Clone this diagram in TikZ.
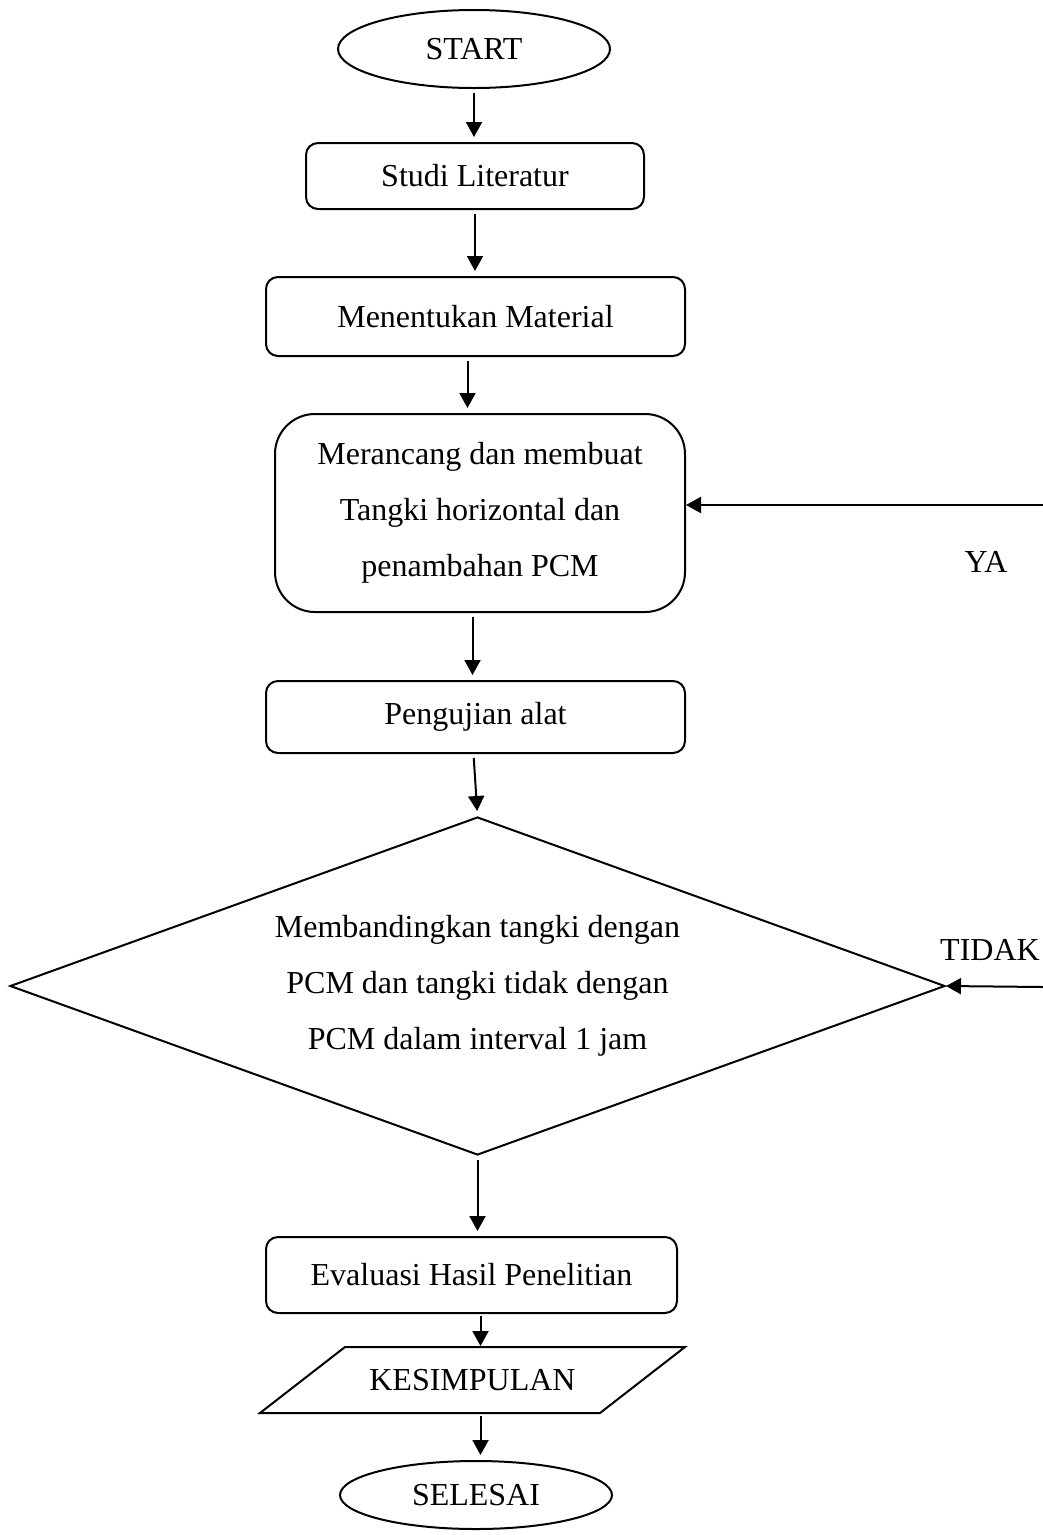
\documentclass[tikz,border=0pt]{standalone}
\usepackage{fontspec}
\setmainfont{Liberation Serif}
\usetikzlibrary{shapes.geometric, arrows.meta}

\begin{document}
\begin{tikzpicture}[x=1pt, y=-1pt,
    line width=2pt,
    every node/.style={font=\fontsize{32}{56}\selectfont, inner sep=0pt},
    terminal/.style={draw, ellipse, minimum width=272pt},
    process/.style={draw, rectangle, rounded corners=12pt, align=center},
    decision/.style={draw, diamond, aspect=2.77, align=center,
                     minimum width=935pt, minimum height=338pt},
    arr/.style={-{Triangle[length=15pt, width=16pt]}, shorten <=4pt, shorten >=5pt}]
      \useasboundingbox (0, 0) rectangle (1043, 1535);

      % Start
      \node[terminal, minimum height=78pt] (start) at (474, 49) {START};

      % Process boxes
      \node[process, minimum width=338pt, minimum height=66pt] (studi) at (475, 176)
        {Studi Literatur};
      \node[process, minimum width=419pt, minimum height=79pt] (material) at (475.5, 316.5)
        {Menentukan Material};
      \node[process, rounded corners=40pt, minimum width=410pt, minimum height=198pt]
        (rancang) at (480, 513)
        {Merancang dan membuat\\Tangki horizontal dan\\penambahan PCM};
      \node[process, minimum width=419pt, minimum height=72pt] (uji) at (475.5, 717)
        {Pengujian alat};

      % Decision
      \node[decision] (banding) at (477.5, 986)
        {Membandingkan tangki dengan\\PCM dan tangki tidak dengan\\PCM dalam interval 1 jam};

      \node[process, minimum width=411pt, minimum height=76pt] (evaluasi) at (471.5, 1275)
        {Evaluasi Hasil Penelitian};

      % Output (parallelogram)
      \draw (345, 1347) -- (685, 1347) -- (600, 1413) -- (260, 1413) -- cycle;
      \node[minimum width=340pt, minimum height=66pt] (simpul) at (472.5, 1380) {KESIMPULAN};

      % End
      \node[terminal, minimum height=68pt] (selesai) at (476, 1495) {SELESAI};

      % Main flow
      \draw[arr] (start.south) -- (start.south |- studi.north);
      \draw[arr] (studi.south) -- (studi.south |- material.north);
      \draw[arr] ([xshift=-8pt]material.south) -- ([xshift=-8pt]material.south |- rancang.north);
      \draw[arr] ([xshift=-3pt]uji.north |- rancang.south) -- ([xshift=-3pt]uji.north);
      \draw[arr] ([xshift=-2pt]uji.south) -- (banding.north);
      \draw[arr] (banding.south) -- (banding.south |- evaluasi.north);
      \draw[arr, shorten <=2pt, shorten >=0pt]
        ([xshift=9pt]evaluasi.south) -- ([xshift=9pt]evaluasi.south |- simpul.north);
      \draw[arr, shorten <=2pt]
        ([xshift=8pt]simpul.south) -- ([xshift=8pt]simpul.south |- selesai.north);

      % Feedback lines
      \coordinate (yakanan) at (1043, 505);
      \coordinate (tidakkanan) at (1043, 987);
      \draw[arr, shorten <=0pt, shorten >=0pt] (yakanan) -- (yakanan -| rancang.east);
      \draw[arr, shorten <=0pt, shorten >=0pt] (tidakkanan) -- (banding.east);
      \node (ya) at (986, 562) {YA};
      \node (tidak) at (990, 950) {TIDAK};
    \end{tikzpicture}
\end{document}
